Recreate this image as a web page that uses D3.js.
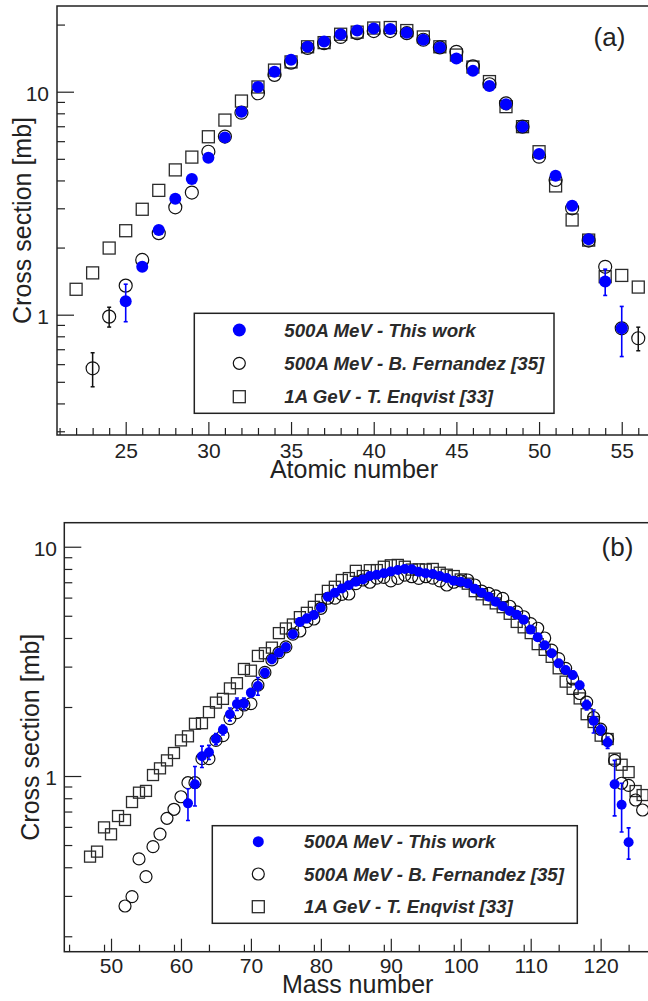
<!DOCTYPE html>
<html>
<head>
<meta charset="utf-8">
<script src="https://cdn.jsdelivr.net/npm/d3@7"></script>
<style>
  html, body { margin: 0; padding: 0; background: #fff; }
  svg { display: block; }
</style>
</head>
<body>
<svg id="chart" width="648" height="1001"></svg>
<script>
// ---------- Panel (a): cross section vs atomic number ----------
const zThisWork = [25, 26, 27, 28, 29, 30, 31, 32, 33, 34, 35, 36, 37, 38, 39, 40,
                   41, 42, 43, 44, 45, 46, 47, 48, 49, 50, 51, 52, 53, 54, 55];
const sigmaZThisWork = [1.15, 1.64, 2.40, 3.31, 4.06, 5.06, 6.24, 8.13, 10.5, 12.3, 13.9, 15.9, 16.8, 18.1, 18.8, 19.2,
                        19.1, 18.4, 17.1, 15.8, 14.1, 12.4, 10.6, 8.78, 6.97, 5.26, 4.20, 3.08, 2.18, 1.41, 0.869];
const errZThisWork = [0.22, 0, 0, 0, 0, 0, 0, 0, 0, 0, 0, 0, 0, 0, 0, 0,
                      0, 0, 0, 0, 0, 0, 0, 0, 0, 0, 0, 0, 0, 0.19, 0.22];

const zFernandez = [23, 24, 25, 26, 27, 28, 29, 30, 31, 32, 33, 34, 35, 36, 37, 38, 39,
                    40, 41, 42, 43, 44, 45, 46, 47, 48, 49, 50, 51, 52, 53, 54, 55, 56];
const sigmaZFernandez = [0.575, 0.98, 1.35, 1.76, 2.32, 3.03, 3.53, 5.38, 6.29, 8.05, 9.84, 11.9, 13.5, 15.7, 16.5, 17.6, 18.3,
                         18.7, 18.7, 18.3, 17.1, 15.8, 15.1, 13.0, 10.8, 8.87, 6.97, 5.11, 4.02, 3.00, 2.15, 1.64, 0.869, 0.784];
const errZFernandez = [0.10, 0.10, 0, 0, 0, 0, 0, 0, 0, 0, 0, 0, 0, 0, 0, 0, 0,
                       0, 0, 0, 0, 0, 0, 0, 0, 0, 0, 0, 0, 0, 0, 0, 0, 0.095];

const zEnqvist = [22, 23, 24, 25, 26, 27, 28, 29, 30, 31, 32, 33, 34, 35, 36, 37, 38, 39,
                  40, 41, 42, 43, 44, 45, 46, 47, 48, 49, 50, 51, 52, 53, 54, 55, 56];
const sigmaZEnqvist = [1.30, 1.54, 1.99, 2.38, 2.97, 3.61, 4.46, 5.09, 6.28, 7.46, 9.08, 10.5, 12.5, 13.6, 15.9, 16.6, 18.1, 18.5,
                       19.3, 19.4, 18.8, 17.6, 15.9, 14.6, 12.9, 11.1, 8.57, 6.97, 5.38, 3.78, 2.66, 2.16, 1.48, 1.50, 1.33];

// ---------- Panel (b): cross section vs mass number ----------
const aThisWork = [61, 62, 63, 64, 65, 66, 67, 68, 69, 70, 71, 72, 73, 74, 75, 76, 77, 78, 79, 80,
                   81, 82, 83, 84, 85, 86, 87, 88, 89, 90, 91, 92, 93, 94, 95, 96, 97, 98, 99, 100,
                   101, 102, 103, 104, 105, 106, 107, 108, 109, 110, 111, 112, 113, 114, 115, 116, 117, 118, 119, 120,
                   121, 122, 123, 124];
const sigmaAThisWork = [0.76, 0.92, 1.22, 1.27, 1.45, 1.59, 1.86, 2.06, 2.07, 2.31, 2.47, 2.82, 3.23, 3.45, 3.65, 4.15, 4.70, 4.87, 5.04, 5.42,
                        6.05, 6.30, 6.58, 6.80, 7.03, 7.20, 7.45, 7.55, 7.66, 7.80, 7.91, 8.00, 7.97, 7.77, 7.66, 7.60, 7.45, 7.30, 7.10, 7.03,
                        6.92, 6.55, 6.30, 6.05, 5.76, 5.50, 5.25, 5.05, 4.80, 4.35, 4.03, 3.72, 3.43, 3.10, 2.90, 2.76, 2.49, 2.04, 1.74, 1.59,
                        1.40, 0.92, 0.75, 0.514];
const errAThisWork = [0.12, 0.18, 0.13, 0.09, 0.08, 0.08, 0.12, 0.13, 0.12, 0.10, 0.22, 0.12, 0.13, 0.12, 0.12, 0.13, 0.18, 0.20, 0.18, 0.18,
                      0.20, 0.20, 0.20, 0.20, 0.20, 0.20, 0.20, 0.20, 0.20, 0.20, 0.20, 0.20, 0.20, 0.20, 0.20, 0.20, 0.20, 0.20, 0.20, 0.20,
                      0.20, 0.20, 0.18, 0.18, 0.17, 0.17, 0.16, 0.15, 0.15, 0.14, 0.13, 0.12, 0.12, 0.10, 0.10, 0.10, 0.09, 0.10, 0.20, 0.08,
                      0.08, 0.25, 0.18, 0.08];

const aFernandez = [52, 53, 54, 55, 56, 57, 58, 59, 60, 61, 62, 63, 64, 65, 66, 67, 68, 69, 70,
                    71, 72, 73, 74, 75, 76, 77, 78, 79, 80, 81, 82, 83, 84, 85, 86, 87, 88, 89, 90,
                    91, 92, 93, 94, 95, 96, 97, 98, 99, 100, 101, 102, 103, 104, 105, 106, 107, 108, 109, 110,
                    111, 112, 113, 114, 115, 116, 117, 118, 119, 120, 121, 122, 123, 124, 125, 126];
const sigmaAFernandez = [0.271, 0.298, 0.435, 0.364, 0.492, 0.558, 0.654, 0.716, 0.812, 0.935, 0.935, 1.19, 1.19, 1.43, 1.50, 1.78, 1.89, 2.04, 2.07,
                         2.49, 2.83, 3.21, 3.45, 3.66, 4.16, 4.29, 4.71, 4.84, 5.39, 5.96, 5.97, 6.20, 6.22, 6.90, 7.16, 7.00, 7.30, 7.35, 7.10,
                         7.28, 7.52, 7.40, 7.28, 7.40, 7.30, 7.10, 6.81, 7.00, 7.10, 7.16, 6.81, 6.40, 6.26, 6.10, 5.95, 5.50, 5.20, 4.95, 4.62,
                         4.41, 4.00, 3.54, 3.25, 2.95, 2.65, 2.29, 2.10, 1.80, 1.60, 1.45, 1.17, 0.93, 0.91, 0.786, 0.711];

const aEnqvist = [47, 48, 49, 50, 51, 52, 53, 54, 55, 56, 57, 58, 59, 60, 61, 62, 63, 64, 65, 66,
                  67, 68, 69, 70, 71, 72, 73, 74, 75, 76, 77, 78, 79, 80, 81, 82, 83, 84, 85, 86,
                  87, 88, 89, 90, 91, 92, 93, 94, 95, 96, 97, 98, 99, 100, 101, 102, 103, 104, 105, 106,
                  107, 108, 109, 110, 111, 112, 113, 114, 115, 116, 117, 118, 119, 120, 121, 122, 123, 124, 125, 126];
const sigmaAEnqvist = [0.445, 0.468, 0.597, 0.557, 0.669, 0.643, 0.770, 0.846, 0.861, 1.01, 1.08, 1.17, 1.26, 1.43, 1.49, 1.69, 1.70, 1.90, 2.09, 2.17,
                       2.41, 2.54, 2.93, 2.88, 3.34, 3.43, 3.63, 4.20, 4.40, 4.58, 4.93, 5.15, 5.47, 5.86, 6.42, 6.69, 7.16, 7.30, 7.85, 7.45,
                       7.90, 7.91, 8.18, 8.30, 8.33, 8.18, 7.95, 7.97, 7.95, 8.00, 7.70, 7.55, 7.45, 7.20, 6.90, 6.40, 6.20, 5.90, 5.66, 5.45,
                       5.10, 4.70, 4.45, 4.20, 3.76, 3.55, 3.31, 2.95, 2.58, 2.40, 2.18, 1.86, 1.72, 1.50, 1.45, 1.19, 1.12, 1.04, 0.86, 0.826];

// ---------- Labels and ticks ----------
const legendLabels = ["500A MeV - This work", "500A MeV - B. Fernandez [35]", "1A GeV - T. Enqvist [33]"];
const xTicksA = [25, 30, 35, 40, 45, 50, 55];
const xTicksB = [50, 60, 70, 80, 90, 100, 110, 120];
const yTicksMajor = [1, 10];

const FONT = "'Liberation Sans', Arial, Helvetica, sans-serif";
const INK = "#222";
const BLUE = "#0000ff";

const svg = d3.select("#chart");
svg.append("rect").attr("width", 648).attr("height", 1001).attr("fill", "#fff");

function logMinorTicks(domain) {
  const out = [];
  const lo = Math.floor(Math.log10(domain[0]));
  const hi = Math.ceil(Math.log10(domain[1]));
  for (let d = lo; d <= hi; d++) {
    for (let k = 1; k <= 9; k++) {
      const v = k * Math.pow(10, d);
      if (v >= domain[0] && v <= domain[1] && k !== 1) out.push(v);
    }
  }
  return out;
}

function drawPanel(p) {
  const x = d3.scaleLinear().domain(p.xDomain).range([p.left, p.right]);
  const y = d3.scaleLog().domain(p.yDomain).range([p.bottom, p.top]);
  const g = svg.append("g");

  // minor ticks on x
  const xMinor = d3.range(Math.ceil(p.xDomain[0]), Math.floor(p.xDomain[1]) + 1, p.xMinorStep)
    .filter(v => !p.xTicks.includes(v));
  g.append("g").attr("transform", `translate(0,${p.bottom})`)
    .call(d3.axisBottom(x).tickValues(xMinor).tickSizeInner(-7).tickSizeOuter(0).tickFormat(""))
    .call(s => s.select(".domain").remove())
    .call(s => s.selectAll("line").attr("stroke", INK).attr("stroke-width", 1.2));
  // major ticks on x
  g.append("g").attr("transform", `translate(0,${p.bottom})`)
    .call(d3.axisBottom(x).tickValues(p.xTicks).tickSizeInner(-13).tickSizeOuter(0).tickPadding(p.xPad).tickFormat(d3.format("d")))
    .call(s => s.select(".domain").remove())
    .call(s => s.selectAll("line").attr("stroke", INK).attr("stroke-width", 1.2))
    .call(s => s.selectAll("text").attr("fill", INK).attr("font-family", FONT).attr("font-size", 21));

  // minor ticks on y
  g.append("g").attr("transform", `translate(${p.left},0)`)
    .call(d3.axisLeft(y).tickValues(logMinorTicks(p.yDomain)).tickSizeInner(-8).tickSizeOuter(0).tickFormat(""))
    .call(s => s.select(".domain").remove())
    .call(s => s.selectAll("line").attr("stroke", INK).attr("stroke-width", 1.2));
  // major ticks on y
  g.append("g").attr("transform", `translate(${p.left},0)`)
    .call(d3.axisLeft(y).tickValues(yTicksMajor).tickSizeInner(-17).tickSizeOuter(0).tickPadding(p.yPad).tickFormat(d3.format("d")))
    .call(s => s.select(".domain").remove())
    .call(s => s.selectAll("line").attr("stroke", INK).attr("stroke-width", 1.2))
    .call(s => s.selectAll("text").attr("fill", INK).attr("font-family", FONT).attr("font-size", 21).attr("dy", "0.42em"));

  // frame
  g.append("rect")
    .attr("x", p.left).attr("y", p.top)
    .attr("width", p.right - p.left).attr("height", p.bottom - p.top)
    .attr("fill", "none").attr("stroke", INK).attr("stroke-width", 1.5);

  // axis titles
  g.append("text").attr("x", (p.left + p.right) / 2).attr("y", p.xTitleY)
    .attr("text-anchor", "middle").attr("font-family", FONT).attr("font-size", 25).attr("fill", INK)
    .text(p.xTitle);
  g.append("text")
    .attr("transform", `translate(${p.yTitleX},${(p.top + p.bottom) / 2}) rotate(-90)`)
    .attr("text-anchor", "middle").attr("font-family", FONT).attr("font-size", 25).attr("fill", INK)
    .text("Cross section [mb]");
  g.append("text").attr("x", p.tagX).attr("y", p.tagY)
    .attr("text-anchor", "middle").attr("font-family", FONT).attr("font-size", 26).attr("fill", INK)
    .text(p.tag);

  const clip = "clip-" + p.tag.replace(/\W/g, "");
  svg.append("clipPath").attr("id", clip).append("rect")
    .attr("x", p.left).attr("y", p.top).attr("width", p.right - p.left).attr("height", p.bottom - p.top);
  const marks = g.append("g").attr("clip-path", `url(#${clip})`);

  // Enqvist: open squares
  const sq = p.sqSize;
  marks.append("g").selectAll("rect")
    .data(p.enq.x.map((v, i) => [v, p.enq.y[i]]))
    .join("rect")
    .attr("x", d => x(d[0]) - sq / 2).attr("y", d => y(d[1]) - sq / 2)
    .attr("width", sq).attr("height", sq)
    .attr("fill", "none").attr("stroke", "#2b2b2b").attr("stroke-width", 1.3);

  // Fernandez: open circles with error bars
  const fern = p.fer.x.map((v, i) => [v, p.fer.y[i], p.fer.e ? p.fer.e[i] : 0]);
  drawErrors(marks, fern.filter(d => d[2] > 0), x, y, "#111", 1.5);
  marks.append("g").selectAll("circle")
    .data(fern).join("circle")
    .attr("cx", d => x(d[0])).attr("cy", d => y(d[1])).attr("r", p.openR)
    .attr("fill", "none").attr("stroke", "#111").attr("stroke-width", 1.2);

  // This work: filled blue circles with error bars
  const tw = p.tw.x.map((v, i) => [v, p.tw.y[i], p.tw.e[i]]);
  drawErrors(marks, tw.filter(d => d[2] > 0), x, y, BLUE, 1.6);
  marks.append("g").selectAll("circle")
    .data(tw).join("circle")
    .attr("cx", d => x(d[0])).attr("cy", d => y(d[1])).attr("r", p.dotR)
    .attr("fill", BLUE);

  // legend
  const L = p.legend;
  g.append("rect").attr("x", L.x0).attr("y", L.y0).attr("width", L.x1 - L.x0).attr("height", L.y1 - L.y0)
    .attr("fill", "#fff").attr("stroke", INK).attr("stroke-width", 1.5);
  g.append("circle").attr("cx", L.mx).attr("cy", L.rows[0]).attr("r", p.dotR + 0.5).attr("fill", BLUE);
  g.append("circle").attr("cx", L.mx).attr("cy", L.rows[1]).attr("r", 6).attr("fill", "none")
    .attr("stroke", "#111").attr("stroke-width", 1.2);
  g.append("rect").attr("x", L.mx - 6).attr("y", L.rows[2] - 6).attr("width", 12).attr("height", 12)
    .attr("fill", "none").attr("stroke", "#2b2b2b").attr("stroke-width", 1.3);
  legendLabels.forEach((t, i) => {
    g.append("text").attr("x", L.tx).attr("y", L.rows[i] + 6.5)
      .attr("font-family", FONT).attr("font-size", 18.7).attr("font-weight", "bold").attr("font-style", "italic")
      .attr("fill", "#2a2a2a").text(t);
  });
}

function drawErrors(sel, data, x, y, color, w) {
  const eg = sel.append("g").attr("stroke", color).attr("stroke-width", w);
  data.forEach(d => {
    const cx = x(d[0]);
    const yHi = y(d[1] + d[2]);
    const yLo = y(Math.max(d[1] - d[2], 1e-3));
    eg.append("line").attr("x1", cx).attr("x2", cx).attr("y1", yHi).attr("y2", yLo);
    eg.append("line").attr("x1", cx - 2).attr("x2", cx + 2).attr("y1", yHi).attr("y2", yHi);
    eg.append("line").attr("x1", cx - 2).attr("x2", cx + 2).attr("y1", yLo).attr("y2", yLo);
  });
}

drawPanel({
  tag: "(a)", tagX: 609.5, tagY: 46,
  left: 57, right: 651, top: 6, bottom: 435,
  xDomain: [20.845, 56.77], yDomain: [0.2887, 24.23],
  xTicks: xTicksA, xMinorStep: 1, xPad: 8, yPad: 8,
  xTitle: "Atomic number", xTitleY: 478, yTitleX: 31,
  sqSize: 12, openR: 6.5, dotR: 6,
  tw: { x: zThisWork, y: sigmaZThisWork, e: errZThisWork },
  fer: { x: zFernandez, y: sigmaZFernandez, e: errZFernandez },
  enq: { x: zEnqvist, y: sigmaZEnqvist },
  legend: { x0: 194.3, x1: 554, y0: 313.3, y1: 413.3, mx: 239.3, tx: 284.3, rows: [330, 363.3, 396.7] }
});

drawPanel({
  tag: "(b)", tagX: 617.5, tagY: 556,
  left: 64.3, right: 651, top: 522.7, bottom: 951.7,
  xDomain: [43.32, 127.2], yDomain: [0.1713, 12.73],
  xTicks: xTicksB, xMinorStep: 5, xPad: 6.5, yPad: 7.3,
  xTitle: "Mass number", xTitleY: 993, yTitleX: 38.6,
  sqSize: 11, openR: 6, dotR: 5,
  tw: { x: aThisWork, y: sigmaAThisWork, e: errAThisWork },
  fer: { x: aFernandez, y: sigmaAFernandez, e: null },
  enq: { x: aEnqvist, y: sigmaAEnqvist },
  legend: { x0: 212.3, x1: 577.3, y0: 825.7, y1: 923.3, mx: 258.3, tx: 304, rows: [841.7, 874, 906.7] }
});
</script>
</body>
</html>
